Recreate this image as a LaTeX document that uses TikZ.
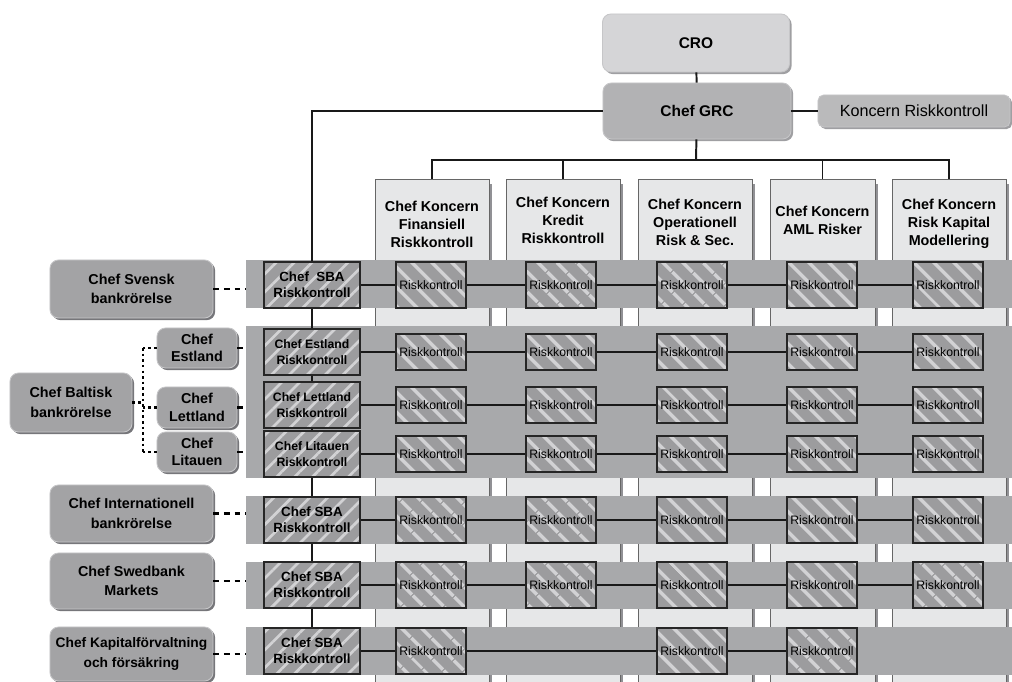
\documentclass[tikz,border=0pt]{standalone}
\usepackage{fontspec}
\setmainfont{Liberation Sans}
\usepackage{tikz}
\usetikzlibrary{shadows,patterns.meta}
\definecolor{ljus}{HTML}{D5D5D7}
\definecolor{mellan}{HTML}{B2B2B4}
\definecolor{mork}{HTML}{A3A3A5}
\definecolor{kant}{HTML}{C6C6C8}
\definecolor{skugga}{HTML}{76767A}
\definecolor{bandgra}{HTML}{A8A9AB}
\definecolor{kolgra}{HTML}{E6E7E8}
\definecolor{ruta}{HTML}{9C9C9E}
\definecolor{rand}{HTML}{D2D2D4}
\tikzset{
  topp/.style={rounded corners=6pt,
    draw=kant,
    line width=0.6pt,
    general shadow={fill=skugga!70, shadow xshift=1.5pt, shadow yshift=-1.5pt},
    font=\bfseries\fontsize{11}{13}\selectfont,
    inner sep=0pt},
  chef/.style={rounded corners=6pt,
    fill=mork,
    draw=kant,
    line width=0.6pt,
    general shadow={fill=skugga, shadow xshift=1.5pt, shadow yshift=-1.5pt},
    font=\bfseries\fontsize{10.2}{14}\selectfont,
    align=center,
    inner sep=0pt},
  kol/.style={fill=kolgra,
    draw=black!60,
    line width=0.5pt,
    anchor=north,
    minimum height=12.575cm,
    inner sep=0pt,
    general shadow={fill=skugga!80, shadow xshift=1.8pt, shadow yshift=-3pt}},
  rubrik/.style={font=\bfseries\fontsize{10.2}{12.8}\selectfont,
    align=center},
  rk/.style={draw=black!85,
    line width=0.8pt,
    preaction={fill=ruta},
    pattern={Lines[angle=-45,distance=10.5pt,line width=2.6pt]},
    pattern color=rand,
    minimum width=1.75cm,
    font=\fontsize{8.7}{10}\selectfont,
    inner sep=0pt},
  sba/.style={rk,
    pattern={Lines[angle=45,distance=9pt,line width=1.9pt]},
    minimum width=2.4cm,
    minimum height=1.15cm,
    font=\bfseries\fontsize{9.5}{11.5}\selectfont,
    align=center},
  linje/.style={line width=1.4pt, black!90},
  streck/.style={line width=1.5pt, dash pattern=on 4pt off 3.5pt},
  prick/.style={line width=1.5pt, dash pattern=on 1.8pt off 2.2pt}
}

\begin{document}
\begin{tikzpicture}[x=0.025cm, y=-0.025cm]

\useasboundingbox (0,0) rectangle (1012,682);

\coordinate (bandleft) at (246,0);
\coordinate (stam) at (143,0);
\coordinate (buss) at (696,160);

\foreach \n/\x/\w in {1/432/2.85, 2/563/2.85, 3/695/2.85, 4/822.5/2.625, 5/949/2.85}
  \node[kol, minimum width=\w*1cm] (col\n) at (\x,179) {};

\node[rubrik] (hd1) at (432,224) {Chef Koncern\\Finansiell\\Riskkontroll};
\node[rubrik] (hd2) at (563,220) {Chef Koncern\\Kredit\\Riskkontroll};
\node[rubrik] (hd3) at (695,222) {Chef Koncern\\Operationell\\Risk \& Sec.};
\node[rubrik] (hd4) at (822.5,220) {Chef Koncern\\AML Risker};
\node[rubrik] (hd5) at (949,224) {Chef Koncern\\Risk Kapital\\Modellering};

\fill[bandgra] (246,260) rectangle (1012,308);
\fill[bandgra] (246,326) rectangle (1012,478);
\fill[bandgra] (246,496) rectangle (1012,544);
\fill[bandgra] (246,562) rectangle (1012,609);
\fill[bandgra] (246,627) rectangle (1012,675);

\node[topp,
  fill=ljus,
  minimum width=4.675cm,
  minimum height=1.45cm] (cro) at (696,43) {CRO};

\node[topp,
  fill=mellan,
  minimum width=4.7cm,
  minimum height=1.4cm] (grc) at (697,111) {Chef GRC};

\node[topp,
  fill=mellan!90!white,
  rounded corners=4pt,
  minimum width=4.8cm,
  minimum height=0.8cm,
  font=\fontsize{11.5}{13}\selectfont] (koncern) at (914,111) {Koncern Riskkontroll};

\node[chef, minimum width=4.075cm, minimum height=1.45cm] (svensk) at (131.5,289) {Chef Svensk\\bankrörelse};
\node[chef, minimum width=3.05cm, minimum height=1.475cm] (baltisk) at (71,402.5) {Chef Baltisk\\bankrörelse};
\node[chef, minimum width=2cm, minimum height=1cm, font=\bfseries\fontsize{10.2}{12.5}\selectfont] (estland) at (197,348) {Chef\\Estland};
\node[chef, minimum width=2cm, minimum height=1.025cm, font=\bfseries\fontsize{10.2}{12.5}\selectfont] (lettland) at (197,407.5) {Chef\\Lettland};
\node[chef, minimum width=2cm, minimum height=1cm, font=\bfseries\fontsize{10.2}{12.5}\selectfont] (litauen) at (197,452) {Chef\\Litauen};
\node[chef, minimum width=4.075cm, minimum height=1.425cm] (intl) at (131.5,513.5) {Chef Internationell\\bankrörelse};
\node[chef, minimum width=4.075cm, minimum height=1.4cm] (markets) at (131.5,581) {Chef Swedbank\\Markets};
\node[chef, minimum width=4.075cm, minimum height=1.35cm, font=\bfseries\fontsize{9.8}{14}\selectfont] (kapital) at (131.5,654) {Chef Kapitalförvaltning\\och försäkring};

\node[sba] (sba1) at (312,285) {Chef\ \ SBA\\Riskkontroll};
\node[sba, font=\bfseries\fontsize{8.7}{11}\selectfont] (sba2) at (312,352) {Chef Estland\\Riskkontroll};
\node[sba, font=\bfseries\fontsize{8.7}{11}\selectfont] (sba3) at (312,405) {Chef Lettland\\Riskkontroll};
\node[sba, font=\bfseries\fontsize{8.7}{11}\selectfont] (sba4) at (312,454) {Chef Litauen\\Riskkontroll};
\node[sba] (sba5) at (312,520) {Chef SBA\\Riskkontroll};
\node[sba] (sba6) at (312,585) {Chef SBA\\Riskkontroll};
\node[sba] (sba7) at (312,651) {Chef SBA\\Riskkontroll};

\foreach \r/\y/\h in {1/285/1.15, 2/352/0.9, 3/405/0.9, 4/454/0.9, 5/520/1.15, 6/585/1.15} {
  \foreach \c/\x in {1/431, 2/561, 3/692, 4/822, 5/948}
    \node[rk, minimum height=\h*1cm] (rk\r\c) at (\x,\y) {Riskkontroll};
}
\foreach \c/\x in {1/431, 3/692, 4/822}
  \node[rk, minimum height=1.15cm] (rk7\c) at (\x,651) {Riskkontroll};

\draw[linje] (cro) -- (grc);
\draw[linje] (grc) -- (koncern);
\draw[linje] (grc) -- (buss);
\draw[linje] (col1.north) |- (buss) -| (col5.north);
\draw[linje] (col2.north) -- (col2.north |- buss);
\draw[linje] (col4.north) -- (col4.north |- buss);

\draw[linje] (grc.west) -| (sba1.north);
\foreach \a/\b in {1/2, 2/3, 3/4, 4/5, 5/6, 6/7}
  \draw[linje] (sba\a.south) -- (sba\b.north);

\foreach \r in {1,...,6} {
  \draw[linje] (sba\r) -- (rk\r1);
  \foreach \a/\b in {1/2, 2/3, 3/4, 4/5}
    \draw[linje] (rk\r\a) -- (rk\r\b);
}
\draw[linje] (sba7) -- (rk71);
\draw[linje] (rk71) -- (rk73);
\draw[linje] (rk73) -- (rk74);

\foreach \m in {svensk, estland, lettland, litauen, intl, markets, kapital}
  \draw[streck] (\m.east) -- (\m.east -| bandleft);

\draw[prick] (baltisk.east) -- (baltisk.east -| stam);
\draw[prick] (estland.west -| stam) -- (litauen.west -| stam);
\foreach \m in {estland, lettland, litauen}
  \draw[prick] (\m.west) -- (\m.west -| stam);

\end{tikzpicture}
\end{document}
